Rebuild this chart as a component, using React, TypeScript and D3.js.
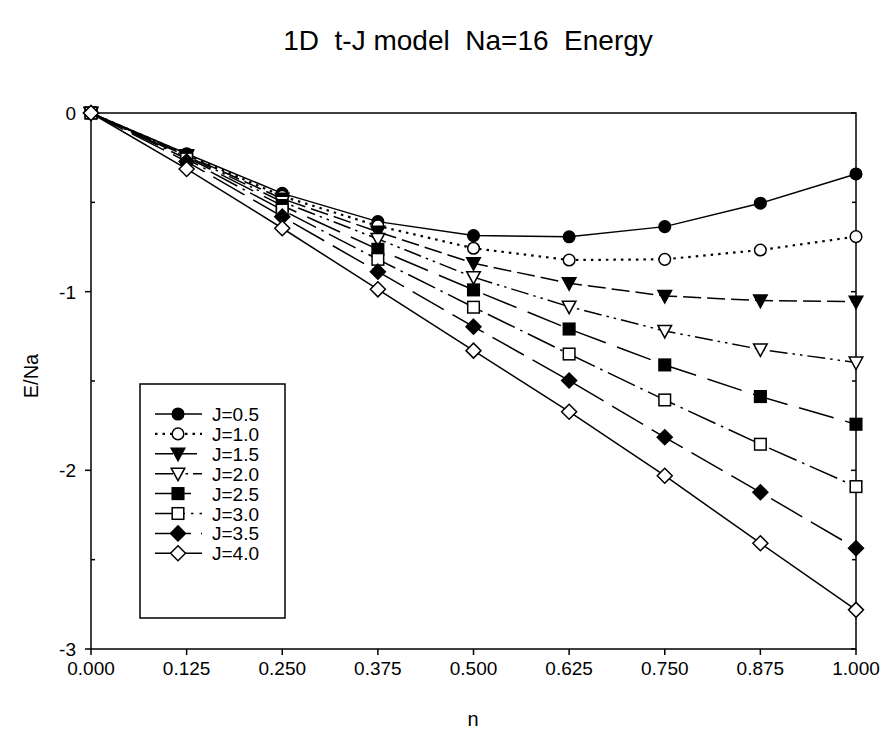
import React from "react";
import * as d3 from "d3";

const nValues = [0, 0.125, 0.25, 0.375, 0.5, 0.625, 0.75, 0.875, 1.0];
const J05 = [0, -0.228, -0.45, -0.608, -0.686, -0.693, -0.636, -0.505, -0.341];
const J10 = [0, -0.232, -0.466, -0.632, -0.757, -0.823, -0.819, -0.767, -0.692];
const J15 = [0, -0.236, -0.48, -0.665, -0.841, -0.953, -1.024, -1.05, -1.056];
const J20 = [0, -0.241, -0.497, -0.705, -0.919, -1.084, -1.22, -1.323, -1.397];
const J25 = [0, -0.248, -0.518, -0.763, -0.99, -1.209, -1.41, -1.587, -1.742];
const J30 = [0, -0.257, -0.543, -0.819, -1.087, -1.349, -1.606, -1.854, -2.091];
const J35 = [0, -0.272, -0.58, -0.888, -1.196, -1.497, -1.815, -2.123, -2.436];
const J40 = [0, -0.313, -0.645, -0.987, -1.33, -1.672, -2.03, -2.408, -2.781];

const seriesLabels = ["J=0.5", "J=1.0", "J=1.5", "J=2.0", "J=2.5", "J=3.0", "J=3.5", "J=4.0"];
const seriesValues = [J05, J10, J15, J20, J25, J30, J35, J40];
const markerTypes = ["circleF", "circleO", "triDownF", "triDownO", "squareF", "squareO", "diamondF", "diamondO"];
const dashes = ["none", "2.5,5", "18,6", "18,5,2.5,5,2.5,5", "36,12", "30,6,2.5,6", "36,10", "none"];

const xTicks = [0, 0.125, 0.25, 0.375, 0.5, 0.625, 0.75, 0.875, 1.0];
const yTicks = [0, -1, -2, -3];
const yMinorTicks = [-0.5, -1.5, -2.5];

const title = "1D  t-J model  Na=16  Energy";
const xLabel = "n";
const yLabel = "E/Na";

const FONT = "'Liberation Sans', Arial, sans-serif";

function Marker({ type, x, y }: { type: string; x: number; y: number }) {
  const filled = type.endsWith("F");
  const fill = filled ? "#000" : "#fff";
  const common = { fill, stroke: "#000", strokeWidth: 1.5 };
  if (type.startsWith("circle")) return <circle cx={x} cy={y} r={5.8} {...common} />;
  if (type.startsWith("triDown")) {
    const w = 6.8, h = 5.5;
    return <path d={`M${x - w},${y - h}L${x + w},${y - h}L${x},${y + h + 1.5}Z`} {...common} />;
  }
  if (type.startsWith("square")) return <rect x={x - 5.8} y={y - 5.8} width={11.6} height={11.6} {...common} />;
  const r = 7.5;
  return <path d={`M${x},${y - r}L${x + r},${y}L${x},${y + r}L${x - r},${y}Z`} {...common} />;
}

export default function App() {
  const x = d3.scaleLinear().domain([0, 1]).range([91, 856]);
  const y = d3.scaleLinear().domain([0, -3]).range([113, 649]);
  const line = d3
    .line<number>()
    .x((_, i) => x(nValues[i]))
    .y((d) => y(d));

  const legX = 140, legY = 384, legW = 145, legH = 234;
  const rowY0 = 414, rowStep = 19.9;

  return (
    <svg width={885} height={738} style={{ position: "absolute", left: 0, top: 0, background: "#fff" }} fontFamily={FONT}>
      <rect x={0} y={0} width={885} height={738} fill="#fff" />
      <text x={468} y={50} textAnchor="middle" fontSize={28} style={{ whiteSpace: "pre" }}>{title}</text>

      {/* frame */}
      <rect x={x(0)} y={y(0)} width={x(1) - x(0)} height={y(-3) - y(0)} fill="none" stroke="#000" strokeWidth={1.5} />

      {/* x ticks */}
      {xTicks.map((t) => (
        <g key={"xt" + t}>
          <line x1={x(t)} x2={x(t)} y1={y(-3)} y2={y(-3) + 6} stroke="#000" strokeWidth={1.5} />
          <text x={x(t)} y={y(-3) + 26} textAnchor="middle" fontSize={19}>{d3.format(".3f")(t)}</text>
        </g>
      ))}
      {/* y ticks */}
      {yTicks.map((t) => (
        <g key={"yt" + t}>
          <line x1={x(0) - 6} x2={x(0)} y1={y(t)} y2={y(t)} stroke="#000" strokeWidth={1.5} />
          <line x1={x(1) - 5} x2={x(1)} y1={y(t)} y2={y(t)} stroke="#000" strokeWidth={1.5} />
          <text x={x(0) - 15} y={y(t) + 7} textAnchor="end" fontSize={19}>{t === 0 ? "0" : String(t)}</text>
        </g>
      ))}
      {yMinorTicks.map((t) => (
        <g key={"ym" + t}>
          <line x1={x(0)} x2={x(0) + 4} y1={y(t)} y2={y(t)} stroke="#000" strokeWidth={1.5} />
          <line x1={x(1) - 4} x2={x(1)} y1={y(t)} y2={y(t)} stroke="#000" strokeWidth={1.5} />
        </g>
      ))}

      <text x={473} y={726} textAnchor="middle" fontSize={20}>{xLabel}</text>
      <text transform={`translate(38,376) rotate(-90)`} textAnchor="middle" fontSize={20}>{yLabel}</text>

      {/* series */}
      {seriesValues.map((vals, si) => (
        <path key={"l" + si} d={line(vals) || ""} fill="none" stroke="#000" strokeWidth={si === 1 ? 2.2 : 1.5}
          strokeDasharray={dashes[si] === "none" ? undefined : dashes[si]} />
      ))}
      {seriesValues.map((vals, si) =>
        vals.map((v, i) => <Marker key={`m${si}-${i}`} type={markerTypes[si]} x={x(nValues[i])} y={y(v)} />)
      )}

      {/* legend */}
      <rect x={legX} y={legY} width={legW} height={legH} fill="#fff" stroke="#000" strokeWidth={1.5} />
      {seriesLabels.map((lab, i) => {
        const ry = rowY0 + i * rowStep;
        return (
          <g key={"lg" + i}>
            <line x1={155} x2={202} y1={ry} y2={ry} stroke="#000" strokeWidth={i === 1 ? 2.2 : 1.5}
              strokeDasharray={dashes[i] === "none" ? undefined : dashes[i]} />
            <Marker type={markerTypes[i]} x={178} y={ry} />
            <text x={212} y={ry + 7} fontSize={19}>{lab}</text>
          </g>
        );
      })}
    </svg>
  );
}
